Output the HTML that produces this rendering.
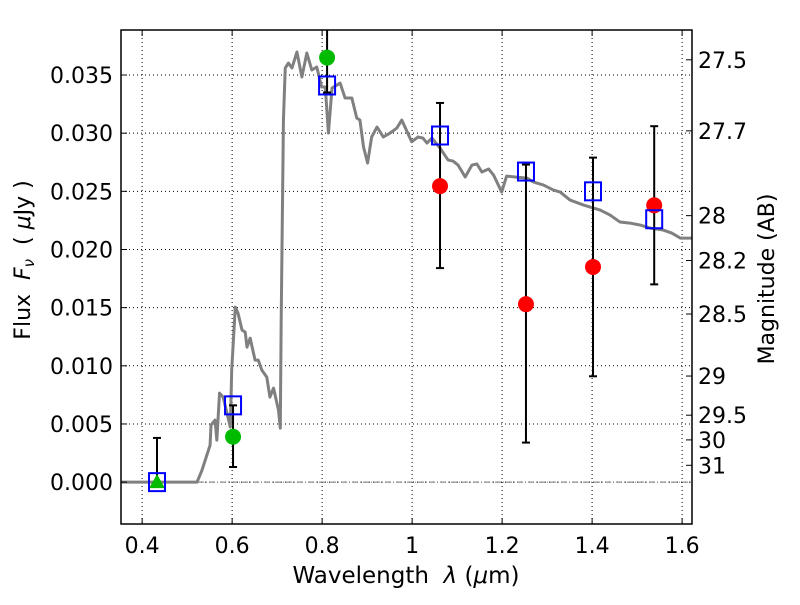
<!DOCTYPE html>
<html><head><meta charset="utf-8"><style>
body{margin:0;background:#fff}
svg text{font-family:"DejaVu Sans","Liberation Sans",sans-serif;fill:#000}
.pre{white-space:pre}
</style></head><body>
<svg id="chart" width="800" height="600" xmlns="http://www.w3.org/2000/svg"></svg>
<script>
const specLam=[0.353,0.522,0.533,0.551,0.553,0.562,0.566,0.572,0.580,0.596,0.599,0.607,0.613,0.622,0.629,0.633,0.640,0.651,0.658,0.666,0.677,0.684,0.692,0.703,0.707,0.709,0.714,0.718,0.725,0.733,0.744,0.755,0.766,0.777,0.788,0.799,0.807,0.814,0.822,0.840,0.851,0.866,0.877,0.884,0.892,0.901,0.910,0.922,0.936,0.951,0.966,0.977,0.999,1.013,1.024,1.033,1.044,1.062,1.080,1.091,1.102,1.118,1.133,1.144,1.155,1.170,1.181,1.199,1.210,1.229,1.255,1.270,1.292,1.314,1.329,1.351,1.381,1.418,1.440,1.462,1.484,1.507,1.529,1.558,1.577,1.596,1.622];
const specFlux=[0,0,0.00103,0.00318,0.0049,0.00533,0.00361,0.00765,0.00731,0.00473,0.00963,0.01505,0.01453,0.01307,0.0129,0.01161,0.01238,0.01049,0.01049,0.00963,0.00903,0.00731,0.00808,0.00619,0.00464,0.01393,0.03113,0.0356,0.03603,0.0356,0.03698,0.03483,0.03689,0.03543,0.03569,0.03397,0.03397,0.03001,0.03388,0.03431,0.03302,0.03302,0.0313,0.03113,0.02881,0.02743,0.02967,0.03053,0.02967,0.03001,0.03044,0.03113,0.02926,0.02967,0.02958,0.02915,0.02958,0.02872,0.02769,0.0276,0.02726,0.02623,0.02726,0.02735,0.02666,0.02692,0.0264,0.02494,0.02631,0.02623,0.02614,0.0258,0.02554,0.02511,0.02494,0.02425,0.02382,0.02339,0.02296,0.02236,0.02227,0.0221,0.02184,0.02167,0.02141,0.02098,0.02098];
const modelLam=[0.433,0.602,0.811,1.062,1.253,1.402,1.538];
const modelFlux=[0.0,0.0066,0.0341,0.0298,0.0267,0.0250,0.0226];
const redLam=[1.062,1.253,1.402,1.538];
const redFlux=[0.02545,0.0153,0.0185,0.0238];
const redLo=[0.0184,0.0034,0.0091,0.0170];
const redHi=[0.0326,0.0273,0.0279,0.0306];
const greenLam=[0.602,0.811];
const greenFlux=[0.0039,0.0365];
const greenLo=[0.0013,0.0335];
const greenHi=[0.0066,0.0400];
const triLam=[0.433];
const triFlux=[0.0];
const triHi=[0.0038];
const xTicks=[0.4,0.6,0.8,1.0,1.2,1.4,1.6];
const xTickLabels=["0.4","0.6","0.8","1","1.2","1.4","1.6"];
const yTicks=[0,0.005,0.01,0.015,0.02,0.025,0.03,0.035];
const yTickLabels=["0.000","0.005","0.010","0.015","0.020","0.025","0.030","0.035"];
const magTicks=[27.5,27.7,28,28.2,28.5,29,29.5,30,31];
const magLabels=["27.5","27.7","28","28.2","28.5","29","29.5","30","31"];

const L=121,R=692,T=30,B=524;
const xmin=0.353,xmax=1.622,ymin=-0.0036,ymax=0.03887;
const X=v=>L+(v-xmin)/(xmax-xmin)*(R-L);
const Y=v=>B-(v-ymin)/(ymax-ymin)*(B-T);
const svg=document.getElementById('chart');
const NS='http://www.w3.org/2000/svg';
function mk(tag,attrs,parent){const e=document.createElementNS(NS,tag);for(const k in attrs)e.setAttribute(k,attrs[k]);(parent||svg).appendChild(e);return e;}
const defs=mk('defs',{});const cp=mk('clipPath',{id:'clip'},defs);mk('rect',{x:L,y:T,width:R-L,height:B-T},cp);
const g=mk('g',{'clip-path':'url(#clip)'});


xTicks.forEach(v=>{const l=mk('line',{x1:X(v),x2:X(v),y1:T,y2:B,stroke:'#000','stroke-width':1,'stroke-dasharray':'1,3'},g);

});
yTicks.forEach(v=>{const l=mk('line',{x1:L,x2:R,y1:Y(v),y2:Y(v),stroke:'#000','stroke-width':1,'stroke-dasharray':'1,3'},g);

});
const zl=mk('line',{x1:L,x2:R,y1:Y(0),y2:Y(0),stroke:'#777','stroke-width':1,'stroke-dasharray':'6,2,1,2'},g);


const sp=mk('polyline',{points:specLam.map((l,i)=>X(l)+','+Y(specFlux[i])).join(' '),fill:'none',stroke:'#808080','stroke-width':3,'stroke-linejoin':'round'},g);


function errbar(x,lo,hi,name){const eg=mk('g',{},g);


mk('line',{x1:X(x),x2:X(x),y1:Y(lo),y2:Y(hi),stroke:'#000','stroke-width':2},eg);
[lo,hi].forEach(v=>mk('line',{x1:X(x)-4,x2:X(x)+4,y1:Y(v),y2:Y(v),stroke:'#000','stroke-width':2},eg));}
triLam.forEach((l,i)=>errbar(l,triFlux[i],triHi[i],'triangle-error-bar'));
greenLam.forEach((l,i)=>errbar(l,greenLo[i],greenHi[i],'green-error-bar'));
redLam.forEach((l,i)=>errbar(l,redLo[i],redHi[i],'red-error-bar'));
triLam.forEach((l,i)=>{const t=mk('polygon',{points:`${X(l)},${Y(triFlux[i])-8} ${X(l)-8},${Y(triFlux[i])+6} ${X(l)+8},${Y(triFlux[i])+6}`,fill:'#00bb00'},g);

});
greenLam.forEach((l,i)=>{const c=mk('circle',{cx:X(l),cy:Y(greenFlux[i]),r:8,fill:'#00bb00'},g);

});
redLam.forEach((l,i)=>{const c=mk('circle',{cx:X(l),cy:Y(redFlux[i]),r:8,fill:'#ff0000'},g);

});
modelLam.forEach((l,i)=>{const r=mk('rect',{x:X(l)-8,y:Y(modelFlux[i])-9,width:16,height:18,fill:'none',stroke:'#0000ff','stroke-width':2},g);

});
const fr=mk('rect',{x:L,y:T,width:R-L,height:B-T,fill:'none',stroke:'#000','stroke-width':1.5});


const FS=22;
xTicks.forEach((v,i)=>{mk('line',{x1:X(v),x2:X(v),y1:B,y2:B-6,stroke:'#000'});mk('line',{x1:X(v),x2:X(v),y1:T,y2:T+6,stroke:'#000'});
const t=mk('text',{x:X(v),y:B+29,'text-anchor':'middle','font-size':FS});t.textContent=xTickLabels[i];

});
yTicks.forEach((v,i)=>{mk('line',{x1:L,x2:L+6,y1:Y(v),y2:Y(v),stroke:'#000'});
const t=mk('text',{x:L-8,y:Y(v)+8,'text-anchor':'end','font-size':FS});t.textContent=yTickLabels[i];

});
magTicks.forEach((m,i)=>{const f=Math.pow(10,(23.9-m)/2.5);const y=Y(f);
mk('line',{x1:R,x2:R-6,y1:y,y2:y,stroke:'#000'});
const t=mk('text',{x:R+6,y:y+8,'font-size':FS});t.textContent=magLabels[i];

});
const xt=mk('text',{x:406,y:583,'text-anchor':'middle','font-size':23,class:'pre'});xt.innerHTML='Wavelength  <tspan font-style="italic">λ</tspan> (<tspan font-style="italic">μ</tspan>m)';


const yt=mk('text',{x:0,y:0,'text-anchor':'middle','font-size':FS,class:'pre',transform:'translate(30,260) rotate(-90)'});yt.innerHTML='Flux  <tspan font-style="italic">F</tspan><tspan font-style="italic" font-size="15" dy="4">ν</tspan><tspan dy="-4">  ( </tspan><tspan font-style="italic">μ</tspan>Jy )';


const rt=mk('text',{x:0,y:0,'text-anchor':'middle','font-size':FS,transform:'translate(774,279) rotate(-90)'});rt.textContent='Magnitude (AB)';


</script>
</body></html>
